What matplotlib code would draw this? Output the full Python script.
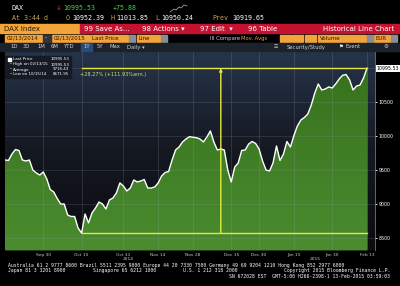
import matplotlib
matplotlib.use("Agg")
import matplotlib.pyplot as plt
import numpy as np
from matplotlib.patches import Rectangle
from matplotlib.colors import LinearSegmentedColormap

W, H = 400, 286

# DAX daily closes, 15 Sep 2014 .. 13 Feb 2015 (trading-day index)
close = [9647, 9640, 9735, 9801, 9787, 9647, 9632, 9647, 9500, 9456,
         9426, 9471, 9368, 9213, 9176, 9081, 9000, 9000, 8838, 8816,
         8816, 8647, 8571.95, 8853, 8721, 8868, 8941, 9029, 9000, 8926,
         9059, 9088, 9162, 9309, 9265, 9191, 9235, 9353, 9324, 9338,
         9360, 9235, 9235, 9250, 9309, 9412, 9463, 9478, 9647, 9794,
         9838, 9912, 9956, 9990, 9981, 9975, 9956, 9912, 9985, 10074,
         9912, 9794, 9809, 9794, 9500, 9324, 9544, 9603, 9787, 9794,
         9882, 9919, 9890, 9809, 9632, 9500, 9485, 9603, 9853, 9640,
         9735, 9919, 9838, 10007, 10147, 10235, 10272, 10324, 10456, 10632,
         10765, 10676, 10691, 10721, 10706, 10765, 10838, 10893, 10904, 10824,
         10676, 10735, 10750, 10853, 10995.53]
day = np.arange(len(close))

tick_days = [11, 22, 34, 44, 54, 65, 73, 83, 94, 104]
tick_labels = ["Sep 30", "Oct 15", "Oct 31", "Nov 14", "Nov 28",
               "Dec 15", "Dec 30", "Jan 15", "Jan 30", "Feb 13"]
y_ticks = [8500, 9000, 9500, 10000, 10500]

low_day, low_val = 22, 8571.95
high_day, high_val = 104, 10995.53
arrow_day = 62
YMIN, YMAX = 8323, 11250
XMAX = 106.3

YEL = "#e6ea3c"
MONO = "DejaVu Sans Mono"


def fx(x):
    return x / W


def fy(y):
    return 1 - y / H


def box(fig, x, y, w, h, color, **kw):
    fig.patches.append(Rectangle((fx(x), fy(y + h)), w / W, h / H,
                                 transform=fig.transFigure, color=color, **kw))


def txt(fig, x, y, s, **kw):
    kw.setdefault("va", "center")
    kw.setdefault("fontsize", 5)
    kw.setdefault("color", "white")
    fig.text(fx(x), fy(y), s, **kw)


fig = plt.figure(figsize=(4, 2.86), dpi=100, facecolor="black")

# ---- header rows ----
txt(fig, 12, 8, "DAX", family=MONO, fontsize=4.8)
txt(fig, 56, 8, "\u2193", family="DejaVu Sans", fontsize=5, color="#e03030")
txt(fig, 63, 8, "10995.53", family=MONO, fontsize=4.8, color="#3fd44a")
txt(fig, 113, 8, "+75.88", family=MONO, fontsize=4.8, color="#3fd44a")
fig.add_artist(plt.Line2D([fx(x) for x in [170, 174, 176, 179, 181, 184, 187]],
                          [fy(y) for y in [12, 9, 10, 7, 8, 5, 6]],
                          color="#bbbbbb", lw=0.5))
txt(fig, 12, 18, "At 3:44 d", family=MONO, fontsize=4.8, color="#c9a45a")
txt(fig, 66, 18, "O", family=MONO, fontsize=4.8, color="#c9a45a")
txt(fig, 72, 18, "10952.39", family=MONO, fontsize=4.8)
txt(fig, 110, 18, "H", family=MONO, fontsize=4.8, color="#c9a45a")
txt(fig, 116, 18, "11013.85", family=MONO, fontsize=4.8)
txt(fig, 155, 18, "L", family=MONO, fontsize=4.8, color="#c9a45a")
txt(fig, 161, 18, "10950.24", family=MONO, fontsize=4.8)
txt(fig, 212, 18, "Prev", family=MONO, fontsize=4.8, color="#c9a45a")
txt(fig, 232, 18, "10919.65", family=MONO, fontsize=4.8)

# red function bar
box(fig, 0, 24, 80, 9.5, "#f2a33a")
box(fig, 80, 24, 320, 9.5, "#c41230")
txt(fig, 4, 29, "DAX Index", color="#2a1a00")
txt(fig, 84, 29, "99 Save As...")
txt(fig, 142, 29, "98 Actions \u25be")
txt(fig, 200, 29, "97 Edit  \u25be")
txt(fig, 248, 29, "96 Table")
txt(fig, 394, 29, "Historical Line Chart", ha="right")

# settings row
for x0, w, s in [(5, 37, "02/13/2014"), (52, 38, "02/13/2015"),
                 (91, 37, "Last Price"), (137, 23, "Line"),
                 (280, 11, ""), (292, 11, ""), (305, 11, ""),
                 (318, 48, "Volume"), (374, 16, "EUR")]:
    box(fig, x0, 34.5, w, 7, "#f2a33a")
    txt(fig, x0 + 1.5, 38, s, fontsize=4, color="#2a1a00")
box(fig, 42.5, 34.5, 8, 7, "#30343c")
txt(fig, 45, 38, "-", fontsize=4)
for x0 in [129, 161, 367, 391]:
    box(fig, x0, 34.5, 6, 7, "#8a8d94")
txt(fig, 210, 38, "III Compare", fontsize=3.8, color="#cfcfcf")
txt(fig, 241, 38, "Mov. Avgs", fontsize=3.8, color="#e0a040")

# period row
box(fig, 0, 43, 400, 8, "#1c222c")
box(fig, 81, 43, 11, 8, "#2b4a7a")
for x0, s in [(10, "1D"), (23, "3D"), (37, "1M"), (51, "6M"), (64, "YTD"),
              (83, "1Y"), (97, "5Y"), (109, "Max"), (127, "Daily \u25be")]:
    txt(fig, x0, 47, s, fontsize=3.8, color="#d0d0d0")
txt(fig, 274, 47, "\u2630", fontsize=3.5, color="#d0d0d0", family="DejaVu Sans")
txt(fig, 287, 47, "Security/Study", fontsize=3.8, color="#d0d0d0")
txt(fig, 338, 47, "\u2691", fontsize=3.8, color="white", family="DejaVu Sans")
txt(fig, 346, 47, "Event", fontsize=3.8, color="#d0d0d0")
txt(fig, 384, 47, "\u2699", fontsize=4, color="#d0d0d0", family="DejaVu Sans")

# ---- chart ----
ax = fig.add_axes([fx(5), fy(250), 370 / W, 199 / H])
ax.set_facecolor("black")
bg = LinearSegmentedColormap.from_list("bg", ["#0b0c10", "#141821", "#26344a"])
ax.imshow(np.linspace(1, 0, 256).reshape(-1, 1), extent=[0, XMAX, YMIN, YMAX],
          aspect="auto", cmap=bg, zorder=0)

fill = ax.fill_between(day, close, YMIN, color="#3f7e22", lw=0, zorder=1)
gr = LinearSegmentedColormap.from_list("gr", ["#4a8c2f", "#366f1b"])
im = ax.imshow(np.linspace(0, 1, 256).reshape(-1, 1)[::-1], extent=[0, XMAX, YMIN, YMAX],
               aspect="auto", cmap=gr, zorder=1.5)
im.set_clip_path(fill.get_paths()[0], transform=ax.transData)

for t in tick_days:
    ax.axvline(t, color="#9aa3b0", lw=0.4, alpha=0.35, zorder=2)
for v in y_ticks + [11000]:
    ax.axhline(v, color="#9aa3b0", lw=0.4, alpha=0.3, zorder=2)

ax.plot(day, close, color="white", lw=1.0, zorder=4, solid_joinstyle="round")

# measuring tool
ax.plot([low_day, high_day], [low_val, low_val], color=YEL, lw=1.0, zorder=5)
ax.plot([low_day, high_day], [high_val, high_val], color=YEL, lw=1.0, zorder=5)
ax.annotate("", xy=(arrow_day, high_val), xytext=(arrow_day, low_val),
            arrowprops=dict(arrowstyle="-|>", color=YEL, lw=1.0,
                            mutation_scale=4, shrinkA=0, shrinkB=0), zorder=5)
pct = (high_val / low_val - 1) * 100
ax.text(low_day - 0.5, high_val - 60, f"+{pct:.2f}% (+111.93%ann.)", color="#d8e060",
        fontsize=3.6, va="top", ha="left", zorder=6)

ax.set_xlim(0, XMAX)
ax.set_ylim(YMIN, YMAX)
ax.set_xticks(tick_days)
ax.set_xticklabels(tick_labels)
ax.yaxis.tick_right()
ax.set_yticks(y_ticks)
ax.set_yticklabels([str(v) for v in y_ticks])
ax.tick_params(axis="x", length=0, pad=2, labelsize=3.2, labelcolor="#c8c8c8")
ax.tick_params(axis="y", length=1.2, width=0.6, pad=1.5, color="white",
               labelsize=3.4, labelcolor="white")
for side in ["top", "left", "bottom"]:
    ax.spines[side].set_visible(False)
ax.spines["right"].set_color("#8890a0")
ax.spines["right"].set_linewidth(0.5)
ax.text(1.005, high_val, "10995.53", transform=ax.get_yaxis_transform(), fontsize=3.4,
        color="black", va="center", ha="left",
        bbox=dict(boxstyle="square,pad=0.15", fc="white", ec="none"))
ax.text(123 / 370, -0.035, "2014", transform=ax.transAxes, fontsize=3.2,
        color="#c8c8c8", ha="center", va="top")
ax.text(310 / 370, -0.035, "2015", transform=ax.transAxes, fontsize=3.2,
        color="#c8c8c8", ha="center", va="top")

# legend box
box(fig, 5, 56, 66, 22, "#151a24", zorder=10)
leg = [("Last Price", "10995.53"), ("High on 02/13/15", "10995.53"),
       ("Average", "9716.43"), ("Low on 10/15/14", "8571.95")]
for i, (name, val) in enumerate(leg):
    yy = 59.5 + i * 5
    txt(fig, 13, yy, name, fontsize=2.9, zorder=11)
    txt(fig, 69, yy, val, fontsize=2.9, ha="right", zorder=11)
    if i == 0:
        box(fig, 8, yy - 1.6, 3.2, 3.2, "white", zorder=11)
    else:
        txt(fig, 9, yy, "\u2022", fontsize=2.5, zorder=11)

# ---- footer ----
FS = 3.45
txt(fig, 8, 265, "Australia 61 2 9777 8600 Brazil 5511 2395 9000 Europe 44 20 7330 7500 "
    "Germany 49 69 9204 1210 Hong Kong 852 2977 6000", family=MONO, fontsize=FS)
txt(fig, 8, 270.5, "Japan 81 3 3201 8900", family=MONO, fontsize=FS)
txt(fig, 93, 270.5, "Singapore 65 6212 1000", family=MONO, fontsize=FS)
txt(fig, 183, 270.5, "U.S. 1 212 318 2000", family=MONO, fontsize=FS)
txt(fig, 390, 270.5, "Copyright 2015 Bloomberg Finance L.P.", family=MONO,
    fontsize=FS, ha="right")
txt(fig, 390, 276, "SN 672028 EST  GMT-5:00 H266-2398-1 13-Feb-2015 03:59:03",
    family=MONO, fontsize=FS, ha="right")

fig.savefig("out.png", dpi=100, facecolor="black")
